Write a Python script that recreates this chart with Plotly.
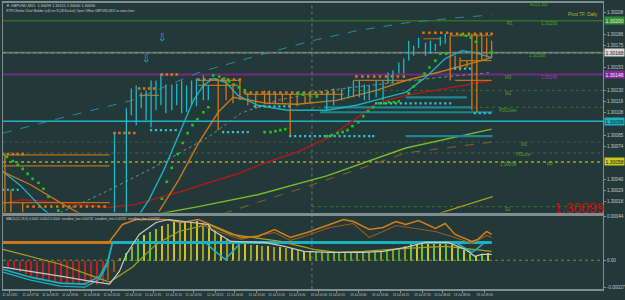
import plotly.graph_objects as go

# ---------------- DATA (main panel: bar position vs price) ----------------
level_prices = [1.30200, 1.30168, 1.30146, 1.30130, 1.30113, 1.30099, 1.30078, 1.30067, 1.30058, 1.30013]
level_start = [2, 2, 2, 315, 315, 2, 2, 2, 2, 315]
level_end = [610] * 10

ma_dash_x = [2, 60, 133, 200, 260, 315, 360, 410, 460, 497]
ma_dash_y = [1.30087, 1.30102, 1.30120, 1.30148, 1.30165, 1.30180, 1.30190, 1.30198, 1.30203, 1.30206]
ma_gray_x = [60, 100, 150, 210, 243, 280, 330, 400, 443, 497]
ma_gray_y = [1.30007, 1.30025, 1.30050, 1.30083, 1.30107, 1.30120, 1.30130, 1.30138, 1.30143, 1.30148]
ma_red_x = [2, 20, 40, 60, 80, 110, 135, 160, 185, 210, 240, 267, 300, 333, 360, 380, 410, 450, 497]
ma_red_y = [1.30016, 1.30020, 1.30019, 1.30017, 1.30015, 1.30012, 1.30015, 1.30022, 1.30029, 1.30037,
            1.30046, 1.30057, 1.30068, 1.30083, 1.30102, 1.30117, 1.30125, 1.30132, 1.30140]
ma_lime_x = [150, 200, 260, 330, 410, 497]
ma_lime_y = [1.30004, 1.30013, 1.30025, 1.30044, 1.30072, 1.30091]
ma_brown_x = [225, 300, 360, 410, 497]
ma_brown_y = [1.30006, 1.30030, 1.30050, 1.30067, 1.30078]
ma_olive_x = [440, 498]
ma_olive_y = [1.30005, 1.30023]
ma_orange_x = [160, 180, 200, 220, 235, 270, 300, 340, 380, 410, 450, 497]
ma_orange_y = [1.30008, 1.30040, 1.30077, 1.30108, 1.30123, 1.30117, 1.30116, 1.30120, 1.30130, 1.30140, 1.30150, 1.30163]
ma_orange_left_x = [2, 30, 67, 80]
ma_orange_left_y = [1.30048, 1.30035, 1.30013, 1.30006]
ma_cyan_left_x = [2, 20, 43, 50]
ma_cyan_left_y = [1.30048, 1.30034, 1.30010, 1.30005]
ma_cyan_x = [140, 150, 165, 180, 195, 205, 215, 228, 240, 260, 290, 330, 360, 390, 410, 430, 450, 467, 480, 497]
ma_cyan_y = [1.30005, 1.30020, 1.30050, 1.30085, 1.30120, 1.30135, 1.30142, 1.30138, 1.30125, 1.30115,
             1.30110, 1.30110, 1.30115, 1.30123, 1.30128, 1.30143, 1.30162, 1.30170, 1.30168, 1.30163]

# teal channel segments
teal_x0 = [327, 323, 410, 410]
teal_x1 = [477, 498, 498, 472]
teal_y = [1.30113, 1.30108, 1.30084, 1.30123]

# renko bars
cyan_bar_x = [115, 127, 132, 137, 142, 147, 152, 157, 162, 167, 173, 178, 183, 188, 193, 198, 205, 210,
              330, 337, 345, 352, 357, 363, 368, 373, 380, 387, 392, 397, 403, 408, 413, 418, 423, 430, 435, 440, 445, 450]
cyan_bar_hi = [1.30088, 1.30112, 1.30132, 1.30135, 1.30128, 1.30130, 1.30140, 1.30140, 1.30147, 1.30136,
               1.30136, 1.30137, 1.30140, 1.30135, 1.30140, 1.30142, 1.30145, 1.30135,
               1.30128, 1.30132, 1.30132, 1.30134, 1.30140, 1.30140, 1.30136, 1.30135, 1.30140, 1.30140,
               1.30148, 1.30150, 1.30158, 1.30162, 1.30180, 1.30175, 1.30183, 1.30178, 1.30180, 1.30177, 1.30184, 1.30187]
cyan_bar_lo = [1.30007, 1.30007, 1.30105, 1.30095, 1.30112, 1.30100, 1.30093, 1.30110, 1.30115, 1.30107,
               1.30110, 1.30115, 1.30107, 1.30108, 1.30115, 1.30114, 1.30120, 1.30120,
               1.30110, 1.30115, 1.30120, 1.30122, 1.30123, 1.30123, 1.30120, 1.30120, 1.30123, 1.30120,
               1.30137, 1.30137, 1.30147, 1.30147, 1.30160, 1.30165, 1.30173, 1.30165, 1.30167, 1.30170, 1.30175, 1.30177]
orange_bar_x = [4, 10, 22, 220, 228, 235, 242, 250, 258, 267, 272, 278, 285, 293, 300, 308, 313,
                455, 460, 465, 472, 477, 482, 487, 492, 497]
orange_bar_hi = [1.30065, 1.30030, 1.30017, 1.30141, 1.30140, 1.30137, 1.30141, 1.30128, 1.30127, 1.30130,
                 1.30130, 1.30128, 1.30127, 1.30127, 1.30125, 1.30125, 1.30125,
                 1.30185, 1.30165, 1.30163, 1.30160, 1.30187, 1.30187, 1.30187, 1.30183, 1.30180]
orange_bar_lo = [1.30007, 1.30007, 1.30007, 1.30090, 1.30120, 1.30117, 1.30120, 1.30115, 1.30112, 1.30116,
                 1.30117, 1.30116, 1.30118, 1.30083, 1.30114, 1.30117, 1.30117,
                 1.30140, 1.30153, 1.30150, 1.30153, 1.30110, 1.30108, 1.30160, 1.30163, 1.30163]

# orange box edges
obox_x0 = [2, 2, 2, 140, 200, 200, 247, 357, 455, 465, 460, 428]
obox_x1 = [110, 110, 110, 160, 242, 240, 347, 410, 497, 497, 497, 445]
obox_y = [1.30065, 1.30054, 1.30017, 1.30125, 1.30140, 1.30135, 1.30126, 1.30140, 1.30185, 1.30160, 1.30140, 1.30182]

# orange marker rows
odot_x = [2, 7, 12, 17, 22,
          115, 120, 125, 130, 135,
          140, 145, 150, 155,
          163, 168, 173, 178,
          200, 206, 212, 218, 224, 230, 236, 242,
          247, 253, 259, 265, 271, 277, 283, 289, 295, 301, 307, 313, 319, 325, 331, 337,
          360, 366, 372, 378, 384, 390, 396, 402, 408,
          428, 434, 440, 446, 452,
          456, 462, 468, 474, 480, 486, 492, 497,
          27, 33, 39, 45, 51, 57, 63, 69, 75, 81, 87, 93, 99, 105]
odot_y = [1.30066] * 5 + [1.30087] * 5 + [1.30132] * 4 + [1.30146] * 4 + [1.30141] * 8 + \
         [1.30128] * 16 + [1.30144] * 9 + [1.30188] * 5 + [1.30187] * 8 + [1.30013] * 14

# cyan marker rows
cdot_x = [2, 7, 12, 17,
          152, 157, 162, 167, 172, 177,
          225, 230, 235, 240, 245, 250,
          257, 262, 267, 272, 277, 282, 287, 292,
          293, 298, 303, 308, 313, 318, 323, 328, 333, 338, 343, 348, 353, 358, 363, 368, 373, 377,
          380, 385, 390, 395, 400, 405, 410, 415, 420, 425, 430, 435, 440, 445, 450, 455,
          460, 465, 470, 475,
          480, 485, 490, 495]
cdot_y = [1.30030] * 4 + [1.30090] * 6 + [1.30088] * 6 + [1.30114] * 8 + [1.30084] * 18 + \
         [1.30117] * 16 + [1.30152] * 4 + [1.30107] * 4

# parabolic SAR dots
sar_x = [6, 12, 17, 22, 27, 32, 38, 43, 48, 58,
         163, 168, 173, 179, 184, 189, 194, 199, 205, 210,
         215, 221, 226, 231, 236, 241, 247,
         267, 273, 278, 283, 288,
         300, 306, 313, 320,
         330, 335, 341, 346, 351, 356, 362, 367, 372, 377, 383, 388, 393, 398, 403,
         413, 418, 424, 429, 434, 440, 445, 451,
         466, 471, 476, 481, 497]
sar_y = [1.30063, 1.30059, 1.30055, 1.30051, 1.30046, 1.30041, 1.30037, 1.30031, 1.30023, 1.30009,
         1.30021, 1.30038, 1.30052, 1.30066, 1.30077, 1.30087, 1.30095, 1.30101, 1.30108, 1.30113,
         1.30145, 1.30144, 1.30142, 1.30139, 1.30136, 1.30133, 1.30130,
         1.30088, 1.30088, 1.30089, 1.30090, 1.30091,
         1.30127, 1.30126, 1.30125, 1.30124,
         1.30084, 1.30085, 1.30087, 1.30088, 1.30090, 1.30094, 1.30098, 1.30104, 1.30109, 1.30113,
         1.30117, 1.30117, 1.30118, 1.30118, 1.30119,
         1.30127, 1.30134, 1.30140, 1.30147, 1.30153, 1.30160, 1.30167, 1.30167,
         1.30186, 1.30185, 1.30183, 1.30179, 1.30168]

price_ticks = [1.30208, 1.30186, 1.30175, 1.30153, 1.30130, 1.30119,
               1.30108, 1.30085, 1.30074, 1.30040, 1.30029, 1.30018]

# ---------------- DATA (MACD panel) ----------------
hist_x = [7, 13, 19, 25, 31, 37, 43, 49, 55, 61, 67, 73, 79, 85, 91, 97, 103, 109, 115, 121, 127, 133, 139,
          145, 151, 157, 163, 169, 175, 181, 187, 193, 199, 205, 211, 217, 223, 229, 235, 241, 247, 253,
          259, 265, 271, 277, 283, 289, 295, 301, 307, 313, 319, 325, 331, 337, 343, 349, 355, 361, 367,
          373, 379, 385, 391, 397, 403, 409, 415, 421, 427, 433, 439, 445, 451, 457, 463, 469, 475, 481,
          487, 493]
hist_y = [-0.00007, -0.00009, -0.00011, -0.00013, -0.00015, -0.00016, -0.00018, -0.00019, -0.00020,
          -0.00021, -0.00022, -0.00023, -0.00023, -0.00024, -0.00024, -0.00024, -0.00022, -0.00019,
          -0.00011, 0.00003, 0.00008, 0.00014, 0.00022, 0.00026, 0.00029, 0.00032, 0.00035, 0.00037,
          0.00039, 0.00039, 0.00039, 0.00039, 0.00040, 0.00038, 0.00035, 0.00031, 0.00026, 0.00022,
          0.00019, 0.00018, 0.00017, 0.00016, 0.00016, 0.00015, 0.00015, 0.00014, 0.00014, 0.00013,
          0.00012, 0.00011, 0.00010, 0.00010, 0.00009, 0.00009, 0.00009, 0.00009, 0.00009, 0.00009,
          0.00009, 0.00009, 0.00009, 0.00009, 0.00010, 0.00010, 0.00011, 0.00012, 0.00013, 0.00015,
          0.00017, 0.00018, 0.00018, 0.00018, 0.00018, 0.00018, 0.00017, 0.00016, 0.00014, 0.00011,
          0.00007, 0.00005, 0.00006, 0.00008]

macd_or_x = [105, 110, 123, 137, 167, 183, 200, 220, 243, 260, 277, 293, 310, 333, 347, 357, 373, 387,
             400, 410, 423, 440, 450, 460, 477, 483, 492, 497]
macd_or_y = [0.00018, 0.00019, 0.00036, 0.00041, 0.00041, 0.00038, 0.00041, 0.00033, 0.00023, 0.00024,
             0.00031, 0.00023, 0.00028, 0.00036, 0.00041, 0.00039, 0.00031, 0.00033, 0.00039, 0.00036,
             0.00040, 0.00032, 0.00037, 0.00026, 0.00019, 0.00021, 0.00029, 0.00026]
macd_or2_x = [200, 220, 243, 260, 277, 293, 310, 333, 357, 373, 387, 400, 440, 460, 477, 492, 497]
macd_or2_y = [0.00037, 0.00029, 0.00021, 0.00025, 0.00028, 0.00020, 0.00025, 0.00033, 0.00037, 0.00023,
              0.00029, 0.00035, 0.00029, 0.00023, 0.00017, 0.00025, 0.00023]
macd_lvl_or_x = [2, 113]
macd_lvl_cy_x = [113, 497]
macd_lvl_y = 0.00018
macd_cy_x = [2, 30, 60, 85, 100, 108, 113, 207, 217, 227, 235, 243, 460, 468, 477, 484, 490, 497]
macd_cy_y = [-0.00009, -0.00017, -0.00023, -0.00024, -0.00016, -0.00001, 0.00018, 0.00018, 0.00009,
             0.00001, 0.00009, 0.00018, 0.00018, 0.00013, 0.00008, 0.00013, 0.00018, 0.00018]
macd_cy2_x = [2, 30, 60, 85, 100, 108, 113]
macd_cy2_y = [-0.00012, -0.00020, -0.00026, -0.00027, -0.00019, -0.00004, 0.00018]
macd_wh_x = [2, 30, 60, 90, 110, 120, 127, 140, 157, 170, 187, 210, 213, 233, 267, 287, 307, 333, 367,
             387, 410, 430, 453, 470, 480, 487, 497]
macd_wh_y = [-0.00007, -0.00011, -0.00016, -0.00021, -0.00024, -0.00011, 0.00006, 0.00026, 0.00038,
             0.00041, 0.00039, 0.00036, 0.00031, 0.00019, 0.00018, 0.00014, 0.00009, 0.00008, 0.00008,
             0.00009, 0.00013, 0.00018, 0.00018, 0.00011, 0.00004, 0.00006, 0.00006]
macd_ol_x = [2, 30, 60, 90, 110, 133, 157, 180, 210, 233, 283, 317, 340, 367, 410, 450, 497]
macd_ol_y = [0.00011, 0.00004, -0.00004, -0.00015, -0.00022, -0.00007, 0.00016, 0.00029, 0.00036,
             0.00026, 0.00019, 0.00011, 0.00008, 0.00009, 0.00012, 0.00014, 0.00009]

time_pos = [9, 30, 50, 70, 92, 112, 134, 154, 175, 195, 217, 237, 259, 279, 300, 322, 340, 362, 384,
            405, 427, 447, 467, 490]
time_labels = ["12 Jul 2021", "12 Jul 07:50", "12 Jul 08:25", "12 Jul 09:05", "12 Jul 09:40",
               "12 Jul 10:20", "12 Jul 11:00", "12 Jul 11:35", "12 Jul 12:10", "12 Jul 12:50",
               "12 Jul 13:25", "12 Jul 14:05", "12 Jul 14:40", "12 Jul 15:20", "12 Jul 16:00",
               "13 Jul 00:30", "13 Jul 02:10", "13 Jul 03:40", "13 Jul 05:00", "13 Jul 06:15",
               "13 Jul 07:20", "13 Jul 08:05", "13 Jul 08:50", "13 Jul 09:30"]

# ---------------- FIGURE ----------------
BG = '#223839'
FONT = 'Liberation Sans, Arial, sans-serif'
fig = go.Figure()


def add_line(x, y, color, width=1.0, dash='solid', xa='x', ya='y'):
    fig.add_trace(go.Scatter(x=x, y=y, mode='lines', line=dict(color=color, width=width, dash=dash),
                             xaxis=xa, yaxis=ya, hoverinfo='skip', showlegend=False))


def vsegs(xs, lo, hi):
    X, Y = [], []
    for a, b, c in zip(xs, lo, hi):
        X += [a, a, None]
        Y += [b, c, None]
    return X, Y


def hsegs(x0, x1, ys):
    X, Y = [], []
    for a, b, c in zip(x0, x1, ys):
        X += [a, b, None]
        Y += [c, c, None]
    return X, Y


# levels
level_styles = [('#2f6f26', 1.5, 'solid'), ('#5d6e68', 2.0, 'solid'), ('#742a84', 2.0, 'solid'),
                ('#3f6630', 1.0, 'dot'), ('#4a6a2a', 1.0, 'dot'), ('#22b4c4', 1.5, 'solid'),
                ('#40602e', 1.0, 'dot'), ('#4e6030', 1.0, 'dot'), ('#a8a820', 1.5, 'dot'),
                ('#3f6f2f', 1.0, 'dot')]
for p, a, b, st in zip(level_prices, level_start, level_end, level_styles):
    add_line([a, b], [p, p], st[0], st[1], st[2])
add_line([level_start[1], level_end[1]], [level_prices[1], level_prices[1]], '#8a9a70', 1, 'dot')

# period separator
add_line([315, 315], [1.30007, 1.30218], '#6a7a7a', 1, 'dot')

# moving averages
add_line(ma_dash_x, ma_dash_y, '#2a8c9c', 1, 'dash')
add_line(ma_gray_x, ma_gray_y, '#7a8a88', 1, 'dot')
add_line(ma_brown_x, ma_brown_y, '#7a5c2c', 1.2, 'dash')
add_line(ma_lime_x, ma_lime_y, '#7cb82a', 1.4)
add_line(ma_olive_x, ma_olive_y, '#a8a020', 1.2)
add_line(ma_red_x, ma_red_y, '#a81c1c', 1.5)

# teal channel
tx, ty = hsegs(teal_x0, teal_x1, teal_y)
add_line(tx, ty, '#1f8590', 2.2)

# orange box edges
bx, by = hsegs(obox_x0, obox_x1, obox_y)
add_line(bx, by, '#b8701a', 1.2)

add_line(ma_orange_left_x, ma_orange_left_y, '#c8781a', 1.3)
add_line(ma_orange_x, ma_orange_y, '#c8781a', 1.4)
add_line(ma_cyan_left_x, ma_cyan_left_y, '#1fb0c0', 1.3)
add_line(ma_cyan_x, ma_cyan_y, '#1fb0c0', 1.4)

# renko bars
cx, cy = vsegs(cyan_bar_x, cyan_bar_lo, cyan_bar_hi)
add_line(cx, cy, '#20b8c8', 1.3)
ox, oy = vsegs(orange_bar_x, orange_bar_lo, orange_bar_hi)
add_line(ox, oy, '#d07a18', 1.3)

# dot rows
fig.add_trace(go.Scatter(x=odot_x, y=odot_y, mode='markers', xaxis='x', yaxis='y', hoverinfo='skip',
                         marker=dict(symbol='square', size=2.5, color='#d8781a'), showlegend=False))
fig.add_trace(go.Scatter(x=cdot_x, y=cdot_y, mode='markers', xaxis='x', yaxis='y', hoverinfo='skip',
                         marker=dict(symbol='square', size=2.2, color='#30c4d4'), showlegend=False))
fig.add_trace(go.Scatter(x=sar_x, y=sar_y, mode='markers', xaxis='x', yaxis='y', hoverinfo='skip',
                         marker=dict(symbol='square', size=2.6, color='#22c41e'), showlegend=False))

# MACD histogram colours
hist_colors = (['#c41e1e'] * 17 + ['#8c5a16'] * 2 +
               ['#8a9a22', '#5cc82a', '#7ab82a', '#5cc82a', '#c8c828', '#5cc82a', '#a8b828'] +
               ['#d0c020', '#9aa020'] * 13 +
               ['#4caf2a', '#8a9a22'] * 8 +
               ['#6ac82a', '#c8c828'] * 7)
fig.add_trace(go.Bar(x=hist_x, y=hist_y, width=1.3, marker=dict(color=hist_colors, line=dict(width=0)),
                     xaxis='x2', yaxis='y2', hoverinfo='skip', showlegend=False))
add_line([2, 610], [0, 0], '#8a8a22', 1, 'dot', 'x2', 'y2')
add_line([315, 315], [-0.00029, 0.00045], '#6a7a7a', 1, 'dot', 'x2', 'y2')
add_line(macd_lvl_or_x, [macd_lvl_y] * 2, '#c8781a', 3, 'solid', 'x2', 'y2')
add_line(macd_lvl_cy_x, [macd_lvl_y] * 2, '#1fb0c0', 3, 'solid', 'x2', 'y2')
add_line(macd_ol_x, macd_ol_y, '#a8a020', 1.2, 'solid', 'x2', 'y2')
add_line(macd_or2_x, macd_or2_y, '#9a5c18', 1.1, 'solid', 'x2', 'y2')
add_line(macd_or_x, macd_or_y, '#d0801c', 1.5, 'solid', 'x2', 'y2')
add_line(macd_cy2_x, macd_cy2_y, '#1fb0c0', 1.2, 'solid', 'x2', 'y2')
add_line(macd_cy_x, macd_cy_y, '#1fb0c0', 1.6, 'solid', 'x2', 'y2')
add_line(macd_wh_x, macd_wh_y, '#c8c8c8', 1.2, 'solid', 'x2', 'y2')

# ---------------- ANNOTATIONS ----------------
ann = []
chart_labels = [("R2(1.30)", 545, 1.30216, '#5aa02a'), ("R1", 516, 1.30197, '#5aa02a'),
                ("1.30200", 556, 1.30197, '#5aa02a'), ("1.30168", 543, 1.30165, '#5aa02a'),
                ("M3", 514, 1.30143, '#5aa02a'), ("1.30146", 556, 1.30143, '#a040b0'),
                ("M2", 514, 1.30127, '#5aa02a'), ("PDClose", 514, 1.30110, '#5aa02a'),
                ("M1", 530, 1.30076, '#5aa02a'), ("PDLow", 529, 1.30065, '#5aa02a'),
                ("1.30058", 514, 1.30055, '#5aa02a'), ("PP", 556, 1.30055, '#5aa02a'),
                ("S1", 514, 1.30010, '#5aa02a')]
for t, x, y, c in chart_labels:
    ann.append(dict(text=t, x=x, y=y, xref='x', yref='y', showarrow=False,
                    font=dict(family=FONT, size=4.5, color=c)))
ann.append(dict(text="Pivot TF: Daily", x=607, y=1.30206, xref='x', yref='y', xanchor='right',
                showarrow=False, font=dict(family=FONT, size=4.5, color='#b8b830')))
ann.append(dict(text="1.30099", x=586, y=1.30012, xref='x', yref='y', showarrow=False,
                font=dict(family=FONT, size=14, color='#c41414')))
for x, y in [(163, 1.30183), (147, 1.30162)]:
    ann.append(dict(text="⇩", x=x, y=y, xref='x', yref='y', showarrow=False,
                    font=dict(family='DejaVu Sans', size=10, color='#20b8c8')))
# right-axis price highlights
highlights = [(1.30200, '#2f8f2f', '#e8e8e8'), (1.30168, '#d8d8d8', '#202020'),
              (1.30146, '#8a2a9a', '#f0f0f0'), (1.30099, '#1fb0c0', '#102020'),
              (1.30058, '#c8c820', '#202020')]
for p, bg, fc in highlights:
    ann.append(dict(text=f"{p:.5f}", x=611 / 625, y=p, xref='paper', yref='y', xanchor='left',
                    showarrow=False, bgcolor=bg, borderpad=0.5,
                    font=dict(family=FONT, size=5, color=fc)))
# header texts
ann.append(dict(text="▼ GBPUSD,M15  1.30099 1.30115 1.30060 1.30090", x=3 / 625, y=1 - 5 / 300,
                xref='paper', yref='paper', xanchor='left', yanchor='middle', showarrow=False,
                font=dict(family=FONT, size=3.8, color='#d0d0d0')))
ann.append(dict(text="RTFX Renko Chart Builder (v4) ver 8 (28 Bucket) Open Offline GBPUSD,M15 to view chart",
                x=3 / 625, y=1 - 10 / 300, xref='paper', yref='paper', xanchor='left', yanchor='middle',
                showarrow=False, font=dict(family=FONT, size=3.2, color='#d0d0d0')))
ann.append(dict(text="MACD(12,26,9) 0.0002 0.0002 0.0000  trendline_line 0.00742  trendline_line 0.00742  trendline_line 0.00742",
                x=3 / 625, y=1 - 219 / 300, xref='paper', yref='paper', xanchor='left', yanchor='middle',
                showarrow=False, font=dict(family=FONT, size=3.2, color='#d0d0d0')))

AX = '#7f8e8e'
fig.update_layout(
    width=625, height=300, margin=dict(l=0, r=0, t=0, b=0),
    paper_bgcolor=BG, plot_bgcolor=BG, showlegend=False, bargap=0,
    annotations=ann,
    xaxis=dict(domain=[2 / 625, 610 / 625], range=[2, 610], anchor='y', showticklabels=False,
               showline=True, mirror=True, linecolor=AX, linewidth=1.5, showgrid=False, zeroline=False,
               ticks=''),
    yaxis=dict(domain=[1 - 213 / 300, 1 - 2 / 300], range=[1.30007, 1.30218], anchor='x', side='right',
               showline=True, mirror=True, linecolor=AX, linewidth=1, showgrid=False, zeroline=False,
               tickvals=price_ticks, ticktext=[f"{v:.5f}" for v in price_ticks], ticks='outside',
               ticklen=2, tickcolor=AX, tickfont=dict(family=FONT, size=4.5, color='#c8c8c8')),
    xaxis2=dict(domain=[2 / 625, 610 / 625], range=[2, 610], anchor='y2', showline=True, mirror=True,
                linecolor=AX, linewidth=1.5, showgrid=False, zeroline=False, tickvals=time_pos,
                ticktext=time_labels, ticks='outside', ticklen=2, tickcolor=AX, tickangle=0,
                tickfont=dict(family=FONT, size=3, color='#c8c8c8')),
    yaxis2=dict(domain=[1 - 290 / 300, 1 - 216 / 300], range=[-0.00029, 0.00045], anchor='x2',
                side='right', showline=True, mirror=True, linecolor=AX, linewidth=1, showgrid=False,
                zeroline=False, tickvals=[0.00044, 0, -0.00027], ticktext=["0.00044", "0.00", "-0.00027"],
                ticks='outside', ticklen=2, tickcolor=AX,
                tickfont=dict(family=FONT, size=4.5, color='#c8c8c8')),
)

fig.write_html("out.html")
